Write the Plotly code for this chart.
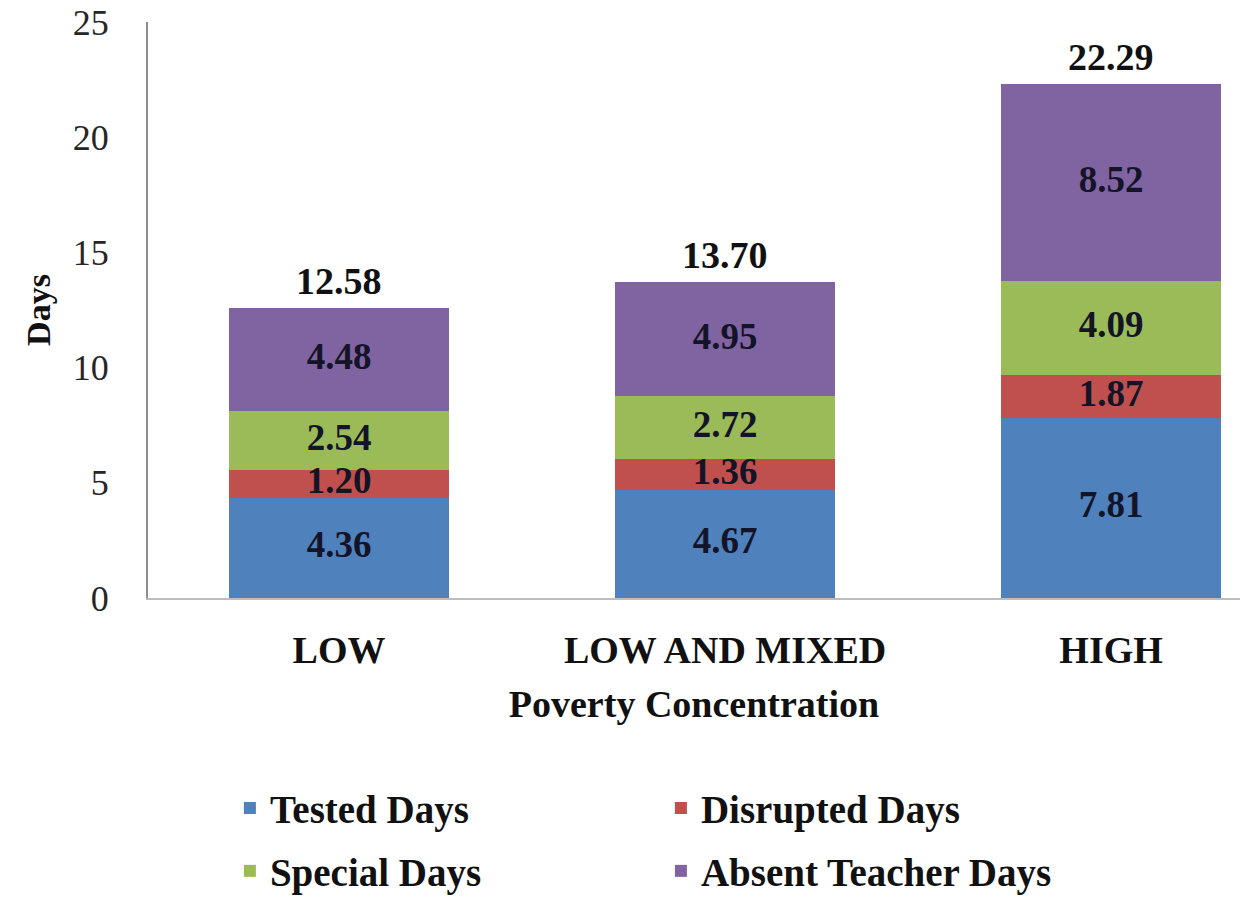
import plotly.graph_objects as go
import numpy as np

categories = ["LOW", "LOW AND MIXED", "HIGH"]
tested = [4.36, 4.67, 7.81]
disrupted = [1.20, 1.36, 1.87]
special = [2.54, 2.72, 4.09]
absent = [4.48, 4.95, 8.52]
totals = [12.58, 13.70, 22.29]
series_names = ["Tested Days", "Disrupted Days", "Special Days", "Absent Teacher Days"]
series_values = [tested, disrupted, special, absent]
colors = ["#4F81BD", "#C0504D", "#9BBB59", "#8064A2"]
legends = ["legend", "legend", "legend2", "legend2"]
y_ticks = [0, 5, 10, 15, 20, 25]

FONT = "Liberation Serif"
fig = go.Figure()

base = np.zeros(len(categories))
for name, vals, col, lg in zip(series_names, series_values, colors, legends):
    fig.add_trace(go.Bar(
        x=categories, y=vals, name=name, marker=dict(color=col, line=dict(width=0)),
        width=0.57, legend=lg, textposition="none", hoverinfo="x+y+name",
    ))
    v = np.array(vals)
    fig.add_trace(go.Scatter(
        x=categories, y=base + v / 2, mode="text",
        text=[f"{x:.2f}" for x in vals], textposition="middle center",
        textfont=dict(family=FONT, size=37, color="#141428", weight="bold"),
        showlegend=False, hoverinfo="skip",
    ))
    base = base + v

for c, t in zip(categories, totals):
    fig.add_annotation(x=c, y=t, text=f"<b>{t:.2f}</b>", showarrow=False,
                       yanchor="bottom", yshift=4,
                       font=dict(family=FONT, size=38, color="#111111"))

fig.update_layout(
    barmode="stack",
    width=1251, height=898,
    margin=dict(l=148, r=11, t=22, b=300, autoexpand=False),
    plot_bgcolor="white", paper_bgcolor="white",
    font=dict(family=FONT, color="#222222"),
    xaxis=dict(
        range=[-0.495, 2.334], showline=True, linecolor="#BDBDBD", linewidth=2,
        showgrid=False, ticks="", ticklabelstandoff=17, automargin=False,
        tickfont=dict(family=FONT, size=38, color="#111111", weight="bold"),
        title=dict(text="<b>Poverty Concentration</b>", standoff=21,
                   font=dict(family=FONT, size=38, color="#111111")),
    ),
    yaxis=dict(
        range=[0, 25], tickvals=y_ticks, showline=True, linecolor="#8C8C8C", linewidth=2,
        showgrid=False, zeroline=False, ticks="", ticklabelstandoff=30, automargin=False,
        tickfont=dict(family=FONT, size=36, color="#262626"),
        title=dict(text="<b>Days</b>", standoff=12,
                   font=dict(family=FONT, size=34, color="#111111")),
    ),
    legend=dict(orientation="h", x=0.075, y=-0.365, xanchor="left", yanchor="middle",
                entrywidth=386, entrywidthmode="pixels", traceorder="normal",
                font=dict(family=FONT, size=39, color="#111111", weight="bold")),
    legend2=dict(orientation="h", x=0.075, y=-0.474, xanchor="left", yanchor="middle",
                 entrywidth=386, entrywidthmode="pixels", traceorder="normal",
                 font=dict(family=FONT, size=39, color="#111111", weight="bold")),
)

fig.write_html("out.html", config={"displayModeBar": False},
               post_script="document.body.style.margin='0';")
